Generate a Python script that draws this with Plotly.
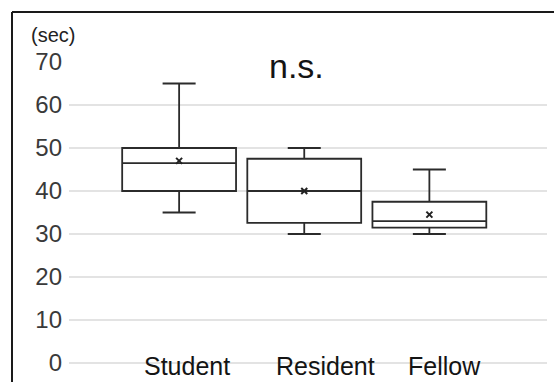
import plotly.graph_objects as go

categories = ["Student", "Resident", "Fellow"]
lower_whisker = [35, 30, 30]
q1_values = [40, 32.6, 31.5]
median_values = [46.5, 40, 33]
q3_values = [50, 47.5, 37.5]
upper_whisker = [65, 50, 45]
mean_values = [47, 40, 34.5]
y_ticks = [0, 10, 20, 30, 40, 50, 60, 70]
label_xshift = [8, 21, 15]

FONT = "Liberation Sans, Arial, sans-serif"
W, H = 554, 382
ML, MR, MT, MB = 69, 7, 62, 19
pw, ph = W - ML - MR, H - MT - MB

def px_x(x):
    return (x - ML) / pw

def px_y(y):
    return (H - MB - y) / ph

fig = go.Figure()
fig.add_trace(go.Box(
    x=categories,
    q1=q1_values, median=median_values, q3=q3_values,
    lowerfence=lower_whisker, upperfence=upper_whisker,
    width=0.91, whiskerwidth=0.29,
    fillcolor="rgba(255,255,255,0)",
    line=dict(color="#2b2b2b", width=1.8),
    boxpoints=False, hoverinfo="skip", showlegend=False,
))
fig.add_trace(go.Scatter(
    x=categories, y=mean_values, mode="markers",
    marker=dict(symbol="x-thin", size=6, line=dict(width=2, color="#222")),
    hoverinfo="skip", showlegend=False,
))

for cat, dx in zip(categories, label_xshift):
    fig.add_annotation(x=cat, y=0, xref="x", yref="y", text=cat, showarrow=False,
                       xanchor="center", yanchor="middle", xshift=dx, yshift=-3,
                       font=dict(family=FONT, size=25, color="#141414"))

fig.add_annotation(x=px_x(53), y=px_y(35), xref="paper", yref="paper", text="(sec)",
                   showarrow=False, xanchor="center", yanchor="middle",
                   font=dict(family=FONT, size=20, color="#222"))
fig.add_annotation(x=px_x(296), y=px_y(66), xref="paper", yref="paper", text="n.s.",
                   showarrow=False, xanchor="center", yanchor="middle",
                   font=dict(family=FONT, size=34, color="#141414"))

# outer frame (top and left)
fig.add_shape(type="line", xref="paper", yref="paper",
              x0=px_x(12), x1=px_x(554), y0=px_y(12), y1=px_y(12),
              line=dict(color="#1a1a1a", width=2.2))
fig.add_shape(type="line", xref="paper", yref="paper",
              x0=px_x(12), x1=px_x(12), y0=px_y(12), y1=px_y(382),
              line=dict(color="#1a1a1a", width=2))

fig.update_layout(
    width=W, height=H,
    margin=dict(l=ML, r=MR, t=MT, b=MB),
    paper_bgcolor="white", plot_bgcolor="white",
    font=dict(family=FONT),
    xaxis=dict(type="category", categoryarray=categories, range=[-0.88, 2.94],
               showticklabels=False, showgrid=False, zeroline=False, showline=False, ticks=""),
    yaxis=dict(range=[0, 70], tickvals=y_ticks, showgrid=True, gridcolor="#e3e3e3", gridwidth=1.5,
               zeroline=True, zerolinecolor="#e3e3e3", zerolinewidth=1.5, showline=False,
               ticks="", ticklabelstandoff=6,
               tickfont=dict(family=FONT, size=24, color="#3a3a3a")),
)

fig.write_html("out.html")
